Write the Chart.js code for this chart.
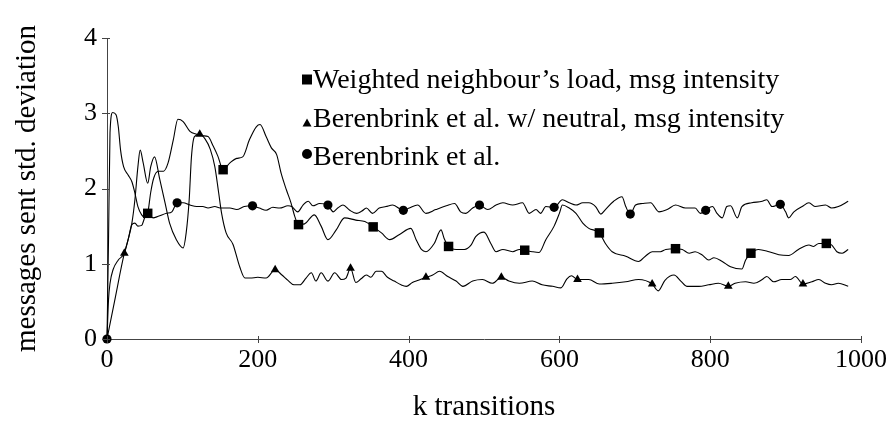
<!DOCTYPE html>
<html>
<head>
<meta charset="utf-8">
<script src="https://cdn.jsdelivr.net/npm/chart.js@4.4.1/dist/chart.umd.min.js"></script>
<style>
  html, body { margin: 0; padding: 0; background: #fff; }
  #wrap { width: 893px; height: 422px; }
</style>
</head>
<body>
<div id="wrap"><canvas id="stdChart" width="893" height="422"></canvas></div>
<script>
// x in thousands of transitions, y = std. deviation of messages sent
const loadX = [0, 2, 4, 8, 15, 23, 28, 33, 37, 41, 46, 50, 54, 58, 62, 68, 75, 81, 88, 94, 101, 110, 119, 127, 134, 141, 147, 154, 163, 172, 180, 189, 198, 203, 211, 218, 225, 231, 238, 244, 249, 254, 262, 275, 284, 293, 304, 315, 330, 342, 353, 364, 375, 388, 403, 410, 417, 423, 434, 443, 447, 453, 463, 474, 483, 489, 500, 509, 516, 525, 538, 547, 554, 564, 573, 582, 593, 600, 604, 613, 622, 631, 639, 653, 661, 670, 688, 705, 714, 723, 734, 741, 754, 763, 772, 780, 789, 798, 805, 816, 827, 842, 847, 854, 864, 878, 891, 904, 917, 931, 937, 944, 954, 961, 968, 975, 983];
const loadY = [0, 0.52, 0.74, 0.92, 1.05, 1.14, 1.32, 1.52, 1.54, 1.50, 1.51, 1.61, 1.67, 1.95, 2.14, 2.23, 2.23, 2.34, 2.65, 2.92, 2.89, 2.76, 2.72, 2.70, 2.69, 2.56, 2.43, 2.25, 2.34, 2.40, 2.42, 2.65, 2.82, 2.85, 2.69, 2.54, 2.45, 2.20, 1.98, 1.81, 1.63, 1.52, 1.53, 1.65, 1.50, 1.32, 1.45, 1.61, 1.58, 1.56, 1.49, 1.41, 1.32, 1.39, 1.47, 1.32, 1.19, 1.16, 1.27, 1.45, 1.34, 1.23, 1.19, 1.19, 1.25, 1.36, 1.42, 1.27, 1.16, 1.19, 1.16, 1.19, 1.18, 1.16, 1.15, 1.32, 1.50, 1.67, 1.78, 1.74, 1.67, 1.54, 1.47, 1.41, 1.27, 1.16, 1.10, 1.03, 1.10, 1.16, 1.16, 1.19, 1.20, 1.19, 1.14, 1.16, 1.12, 1.05, 1.08, 1.03, 0.96, 0.93, 1.05, 1.14, 1.19, 1.16, 1.12, 1.11, 1.19, 1.25, 1.23, 1.27, 1.27, 1.25, 1.16, 1.14, 1.19];
const loadMarks = [54, 154, 254, 353, 453, 554, 653, 754, 854, 954];

const neutralX = [0, 10, 23, 28, 33, 37, 41, 44, 48, 54, 58, 63, 70, 77, 83, 92, 101, 105, 109, 112, 116, 123, 130, 137, 143, 148, 152, 158, 167, 176, 183, 190, 200, 211, 223, 232, 240, 248, 256, 264, 271, 277, 284, 293, 302, 311, 317, 323, 330, 337, 344, 350, 357, 364, 372, 381, 390, 397, 405, 413, 423, 432, 441, 452, 463, 472, 485, 498, 511, 523, 533, 547, 564, 577, 591, 602, 610, 616, 624, 639, 653, 670, 688, 705, 723, 731, 740, 752, 761, 769, 785, 798, 811, 824, 833, 847, 858, 869, 875, 884, 895, 906, 913, 923, 935, 944, 953, 961, 970, 983];
const neutralY = [0, 0.50, 1.14, 1.32, 1.54, 1.85, 2.29, 2.51, 2.34, 2.07, 2.29, 2.42, 2.12, 1.81, 1.54, 1.32, 1.21, 1.41, 1.85, 2.42, 2.69, 2.72, 2.66, 2.52, 2.29, 1.95, 1.67, 1.41, 1.26, 0.96, 0.81, 0.81, 0.82, 0.81, 0.92, 0.85, 0.78, 0.72, 0.72, 0.81, 0.88, 0.77, 0.88, 0.77, 0.88, 0.79, 0.81, 0.94, 0.75, 0.80, 0.85, 0.82, 0.90, 0.90, 0.82, 0.77, 0.72, 0.70, 0.75, 0.78, 0.82, 0.85, 0.90, 0.83, 0.77, 0.70, 0.77, 0.79, 0.74, 0.82, 0.77, 0.74, 0.77, 0.72, 0.70, 0.68, 0.80, 0.84, 0.79, 0.79, 0.73, 0.74, 0.76, 0.79, 0.73, 0.64, 0.78, 0.85, 0.77, 0.70, 0.70, 0.72, 0.74, 0.70, 0.74, 0.76, 0.74, 0.79, 0.83, 0.76, 0.79, 0.79, 0.83, 0.73, 0.76, 0.79, 0.74, 0.72, 0.74, 0.70];
const neutralMarks = [23, 123, 223, 323, 423, 523, 624, 723, 824, 923];

const berenX = [0, 2, 4, 7.5, 12, 15, 18, 22, 28, 33, 37, 41, 46, 50, 54, 61, 68, 79, 86, 93, 101, 110, 119, 127, 134, 143, 150, 163, 172, 182, 193, 202, 211, 220, 229, 240, 245, 253, 260, 267, 273, 282, 293, 300, 306, 313, 322, 331, 338, 344, 352, 361, 370, 379, 393, 401, 412, 423, 436, 450, 461, 469, 476, 485, 494, 505, 516, 525, 538, 551, 560, 569, 575, 582, 593, 604, 613, 622, 631, 639, 648, 655, 661, 672, 683, 688, 694, 701, 710, 721, 732, 743, 754, 767, 780, 787, 794, 803, 809, 816, 822, 827, 836, 842, 855, 869, 875, 882, 893, 900, 904, 911, 922, 931, 939, 953, 961, 970, 983];
const berenY = [0, 1.30, 2.74, 3.01, 2.98, 2.82, 2.51, 2.29, 2.18, 2.09, 1.94, 1.76, 1.65, 1.62, 1.66, 1.61, 1.63, 1.67, 1.69, 1.81, 1.81, 1.78, 1.76, 1.76, 1.74, 1.76, 1.74, 1.74, 1.72, 1.76, 1.77, 1.74, 1.71, 1.75, 1.74, 1.77, 1.76, 1.69, 1.78, 1.83, 1.77, 1.80, 1.78, 1.69, 1.74, 1.78, 1.71, 1.67, 1.70, 1.74, 1.67, 1.74, 1.76, 1.78, 1.71, 1.74, 1.78, 1.67, 1.72, 1.77, 1.80, 1.69, 1.67, 1.74, 1.78, 1.72, 1.78, 1.81, 1.78, 1.81, 1.67, 1.72, 1.67, 1.76, 1.75, 1.85, 1.81, 1.78, 1.81, 1.81, 1.76, 1.66, 1.72, 1.83, 1.89, 1.76, 1.66, 1.78, 1.80, 1.81, 1.69, 1.72, 1.78, 1.74, 1.74, 1.67, 1.71, 1.76, 1.67, 1.61, 1.76, 1.77, 1.61, 1.76, 1.81, 1.83, 1.85, 1.76, 1.79, 1.69, 1.61, 1.69, 1.76, 1.81, 1.76, 1.78, 1.74, 1.76, 1.83];
const berenMarks = [0, 93, 193, 293, 393, 494, 593, 694, 794, 893];

const seriesLabels = [
  "Weighted neighbour\u2019s load, msg intensity",
  "Berenbrink et al. w/ neutral, msg intensity",
  "Berenbrink et al."
];
const xTicks = [0, 200, 400, 600, 800, 1000];
const yTicks = [0, 1, 2, 3, 4];

const serif = "'Liberation Serif', 'Times New Roman', serif";

function toPoints(xs, ys) {
  return xs.map((x, i) => ({ x: x, y: ys[i] }));
}

function makeSeries(label, xs, ys, marks, style, radius) {
  const r = c => (c.raw && marks.includes(c.raw.x)) ? radius : 0;
  return {
    label: label,
    data: toPoints(xs, ys),
    borderColor: "#000",
    backgroundColor: "#000",
    borderWidth: 1.1,
    cubicInterpolationMode: "monotone",
    pointStyle: style,
    pointRadius: r,
    pointHoverRadius: r,
    pointBorderWidth: 0,
    clip: false,
  };
}

function drawMarker(ctx, style, x, y, size) {
  ctx.beginPath();
  if (style === "rect") {
    ctx.rect(x - size / 2, y - size / 2, size, size);
  } else if (style === "triangle") {
    const h = size * 0.866;
    ctx.moveTo(x, y - h / 2);
    ctx.lineTo(x + size / 2, y + h / 2);
    ctx.lineTo(x - size / 2, y + h / 2);
    ctx.closePath();
  } else {
    ctx.arc(x, y, size / 2, 0, Math.PI * 2);
  }
  ctx.fill();
}

// tick marks crossing the axis lines, like the original
const crossTicks = {
  id: "crossTicks",
  afterDraw(chart) {
    const ctx = chart.ctx;
    const xs = chart.scales.x, ys = chart.scales.y;
    const area = chart.chartArea;
    ctx.save();
    ctx.strokeStyle = "#444";
    ctx.lineWidth = 1;
    ctx.beginPath();
    xTicks.forEach(v => {
      const px = Math.round(xs.getPixelForValue(v)) + 0.5;
      ctx.moveTo(px, area.bottom - 3);
      ctx.lineTo(px, area.bottom + 4);
    });
    yTicks.forEach(v => {
      const py = Math.round(ys.getPixelForValue(v)) + 0.5;
      ctx.moveTo(area.left - 5, py);
      ctx.lineTo(area.left + 3, py);
    });
    ctx.stroke();
    ctx.restore();
  }
};

// legend inside the plot, marker glyph then text
const innerLegend = {
  id: "innerLegend",
  afterDraw(chart) {
    const ctx = chart.ctx;
    const left = 313;
    const baselines = [88, 126.5, 165];
    const markY = [-8.5, -4, -11];
    const markSize = [10, 9, 10];
    ctx.save();
    ctx.fillStyle = "#000";
    ctx.font = "28px " + serif;
    ctx.textBaseline = "alphabetic";
    chart.data.datasets.forEach((ds, i) => {
      drawMarker(ctx, ds.pointStyle, left - 6, baselines[i] + markY[i], markSize[i]);
      ctx.fillText(ds.label, left, baselines[i]);
    });
    ctx.restore();
  }
};

const ctx = document.getElementById("stdChart").getContext("2d");

new Chart(ctx, {
  type: "line",
  data: {
    datasets: [
      makeSeries(seriesLabels[0], loadX, loadY, loadMarks, "rect", 6.7),
      makeSeries(seriesLabels[1], neutralX, neutralY, neutralMarks, "triangle", 5),
      makeSeries(seriesLabels[2], berenX, berenY, berenMarks, "circle", 4.6),
    ],
  },
  options: {
    responsive: false,
    animation: false,
    events: [],
    layout: { padding: { top: 38, right: 30, left: 0, bottom: 0 } },
    plugins: { legend: { display: false }, tooltip: { enabled: false } },
    scales: {
      x: {
        type: "linear",
        min: 0,
        max: 1000,
        afterFit: s => { s.height = 83; },
        afterBuildTicks: s => { s.ticks = xTicks.map(v => ({ value: v })); },
        grid: { display: false, drawTicks: false },
        border: { display: true, color: "#444", width: 1 },
        ticks: {
          color: "#000",
          padding: 6,
          font: { family: serif, size: 26 },
          callback: v => String(v),
        },
        title: {
          display: true,
          text: "k transitions",
          color: "#000",
          padding: { top: 0, bottom: 0.5 },
          font: { family: serif, size: 29, lineHeight: 1 },
        },
      },
      y: {
        type: "linear",
        min: 0,
        max: 4,
        afterFit: s => { s.width = 107; },
        afterBuildTicks: s => { s.ticks = yTicks.map(v => ({ value: v })); },
        grid: { display: false, drawTicks: false },
        border: { display: true, color: "#444", width: 1 },
        ticks: {
          color: "#000",
          padding: 10,
          font: { family: serif, size: 26 },
          callback: v => String(v),
        },
        title: {
          display: true,
          text: "messages sent std. deviation",
          color: "#000",
          padding: { top: 12.5, bottom: 0 },
          font: { family: serif, size: 29, lineHeight: 1 },
        },
      },
    },
  },
  plugins: [crossTicks, innerLegend],
});
</script>
</body>
</html>
